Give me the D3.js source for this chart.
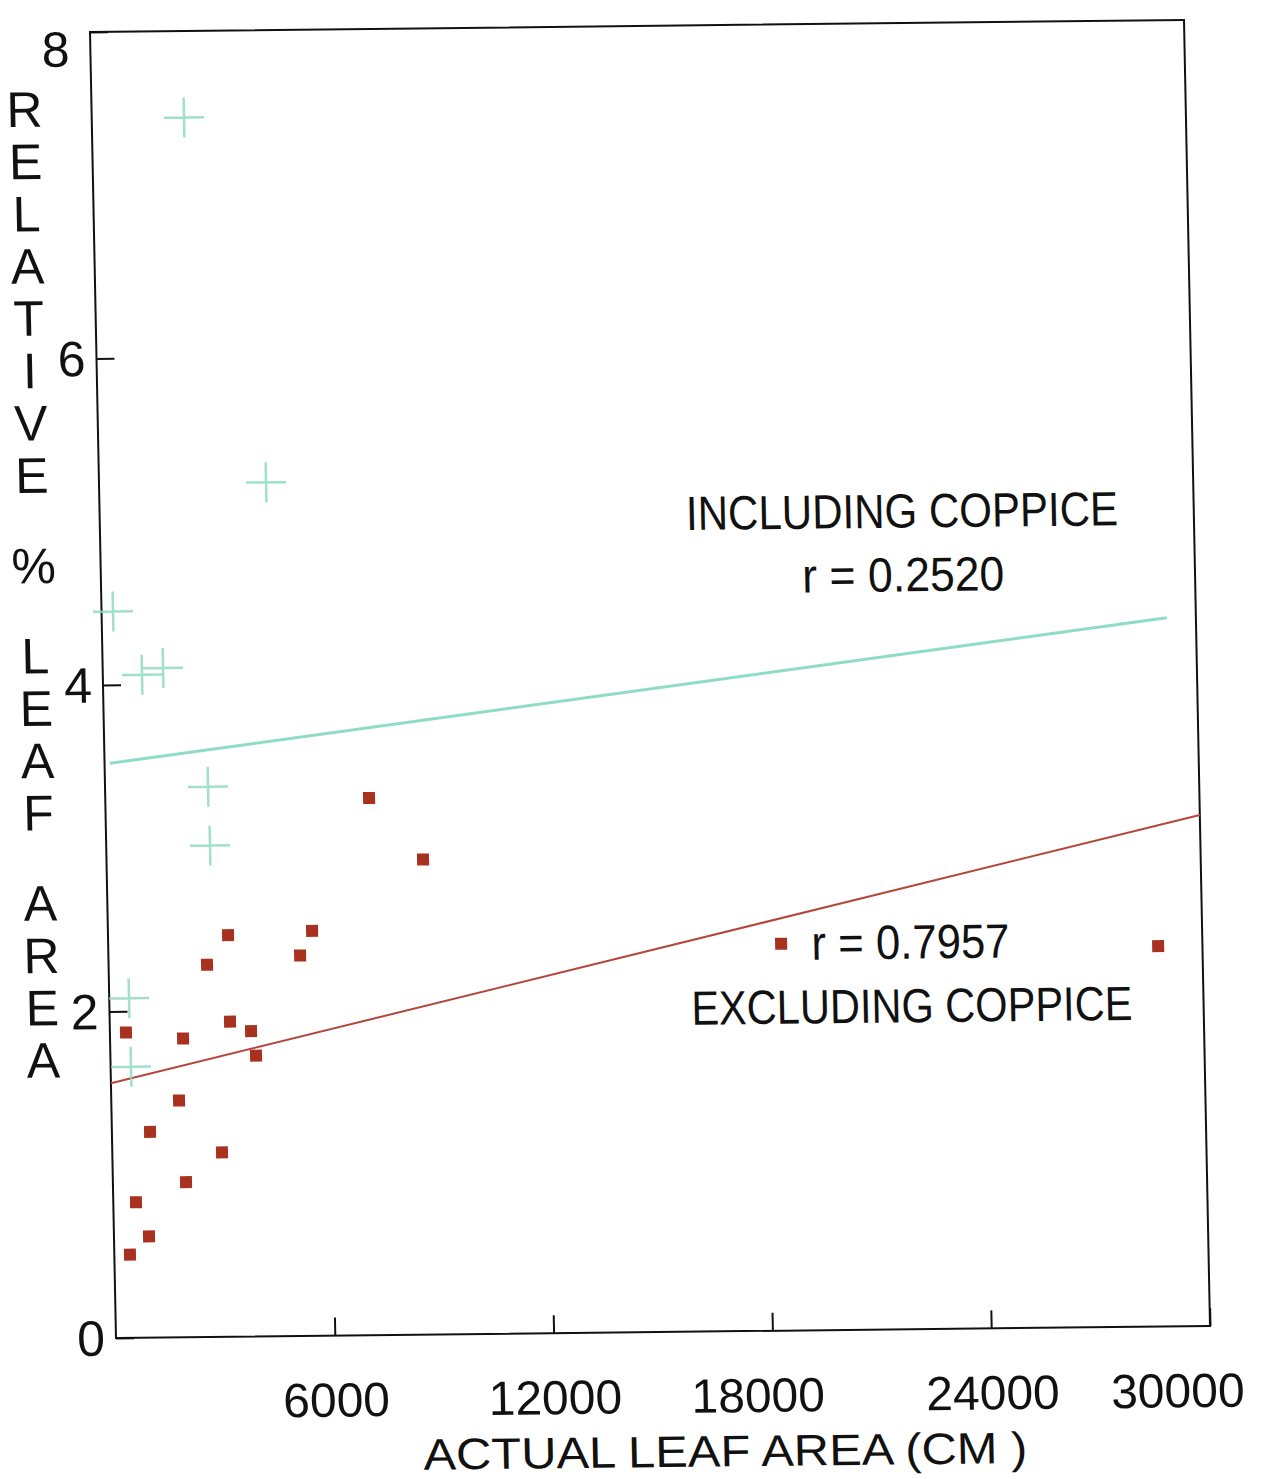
<!DOCTYPE html>
<html>
<head>
<meta charset="utf-8">
<script src="https://cdn.jsdelivr.net/npm/d3@7"></script>
<style>
  body { margin: 0; background: #fff; }
  svg { display: block; font-family: "Liberation Sans", Arial, sans-serif; }
</style>
</head>
<body>
<div id="chart"></div>
<script>
// coppice points (crosses)
let crossX = [2530, 4580, 315, 1075, 1656, 2824, 2846, 543, 560];
let crossY = [7.47, 5.23, 4.45, 4.06, 4.10, 3.37, 3.01, 2.08, 1.66];

// non-coppice points (squares)
let squareX = [3292, 5598, 2700, 5256, 441, 2002, 3299, 3870, 3994, 1858, 1046, 3008, 2005, 622, 961, 429, 7233, 8679, 18450, 28786];
let squareY = [2.46, 2.48, 2.28, 2.33, 1.87, 1.83, 1.93, 1.87, 1.72, 1.45, 1.26, 1.13, 0.95, 0.83, 0.62, 0.51, 3.29, 2.91, 2.37, 2.33];

// fitted lines, end points
let inclLineX = [150, 29200];
let inclLineY = [3.52, 4.34];
let exclLineX = [0, 30000];
let exclLineY = [1.56, 3.13];

let xTicks = [6000, 12000, 18000, 24000, 30000];
let yTicks = [0, 2, 4, 6, 8];

let yTitle = "RELATIVE % LEAF AREA";
let xTitle = "ACTUAL LEAF AREA (CM )";

let width = 1270, height = 1479;
let plotW = 1094, plotH = 1306;

let svg = d3.select("#chart").append("svg")
    .attr("width", width)
    .attr("height", height);

svg.append("rect").attr("width", width).attr("height", height).attr("fill", "#fff");

// the scanned page is slightly skewed
let g = svg.append("g")
    .attr("transform", "matrix(1,-0.011,0.0199,1,90,32)");

let x = d3.scaleLinear().domain([0, 30000]).range([0, plotW]);
let y = d3.scaleLinear().domain([0, 8]).range([plotH, 0]);

// frame
g.append("rect")
    .attr("width", plotW)
    .attr("height", plotH)
    .attr("fill", "none")
    .attr("stroke", "#111")
    .attr("stroke-width", 2);

let xAxis = g.append("g")
    .attr("transform", "translate(0," + plotH + ")")
    .call(d3.axisBottom(x).tickValues(xTicks).tickSize(-18).tickSizeOuter(0).tickPadding(47).tickFormat(d3.format("d")));

xAxis.select(".domain").remove();
xAxis.selectAll(".tick line").attr("stroke", "#111").attr("stroke-width", 2);
xAxis.selectAll(".tick text")
    .attr("font-size", 48)
    .attr("fill", "#111")
    .attr("font-family", "Liberation Sans, Arial, sans-serif")
    .attr("dx", d => d === 30000 ? -34 : d === 18000 ? -16 : 0);

let yAxis = g.append("g")
    .call(d3.axisLeft(y).tickValues(yTicks).tickSize(-18).tickSizeOuter(0).tickPadding(11));

yAxis.select(".domain").remove();
yAxis.selectAll(".tick line").attr("stroke", "#111").attr("stroke-width", 2);
yAxis.selectAll(".tick text")
    .attr("font-size", 50)
    .attr("fill", "#111")
    .attr("font-family", "Liberation Sans, Arial, sans-serif")
    .attr("dx", d => d === 8 ? -10 : 0)
    .attr("dy", d => d === 8 ? "0.68em" : "0.34em");

// regression lines
let line = d3.line().x(d => x(d[0])).y(d => y(d[1]));

g.append("path")
    .datum(d3.zip(inclLineX, inclLineY))
    .attr("d", line)
    .attr("fill", "none")
    .attr("stroke", "#8fdcc6")
    .attr("stroke-width", 3);

g.append("path")
    .datum(d3.zip(exclLineX, exclLineY))
    .attr("d", line)
    .attr("fill", "none")
    .attr("stroke", "#b4463c")
    .attr("stroke-width", 2);

// crosses
g.append("g")
    .selectAll("path")
    .data(d3.zip(crossX, crossY))
    .enter().append("path")
    .attr("transform", d => "translate(" + x(d[0]) + "," + y(d[1]) + ")")
    .attr("d", "M-20,0H20M0,-20V20")
    .attr("stroke", "#8adabf")
    .attr("stroke-width", 2.5)
    .attr("opacity", 0.8);

// squares
g.append("g")
    .selectAll("rect")
    .data(d3.zip(squareX, squareY))
    .enter().append("rect")
    .attr("x", d => x(d[0]) - 6)
    .attr("y", d => y(d[1]) - 6)
    .attr("width", 12)
    .attr("height", 12)
    .attr("fill", "#a8321f");

// annotations
let notes = [
    { text: "INCLUDING COPPICE", v: 4.91, w: 432 },
    { text: "r = 0.2520", v: 4.52, w: 202 },
    { text: "r = 0.7957", v: 2.27, w: 198 },
    { text: "EXCLUDING COPPICE", v: 1.88, w: 441 }
];

g.append("g")
    .selectAll("text")
    .data(notes)
    .enter().append("text")
    .attr("x", x(22000))
    .attr("y", d => y(d.v))
    .attr("text-anchor", "middle")
    .attr("font-size", 48)
    .attr("fill", "#111")
    .attr("textLength", d => d.w)
    .attr("lengthAdjust", "spacingAndGlyphs")
    .text(d => d.text);

// x title
g.append("text")
    .attr("x", 607)
    .attr("y", plotH + 135)
    .attr("text-anchor", "middle")
    .attr("font-size", 44)
    .attr("fill", "#111")
    .attr("textLength", 604)
    .attr("lengthAdjust", "spacingAndGlyphs")
    .text(xTitle);

// y title, one letter per line
let pos = 76;
let letters = [];
yTitle.split("").forEach(function(c) {
    if (c === " ") { pos += 38; return; }
    letters.push({ c: c, v: pos });
    pos += 52.3;
});

g.append("g")
    .selectAll("text")
    .data(letters)
    .enter().append("text")
    .attr("x", -67)
    .attr("y", d => d.v)
    .attr("dy", "0.36em")
    .attr("text-anchor", "middle")
    .attr("font-size", 50)
    .attr("fill", "#111")
    .text(d => d.c);
</script>
</body>
</html>
